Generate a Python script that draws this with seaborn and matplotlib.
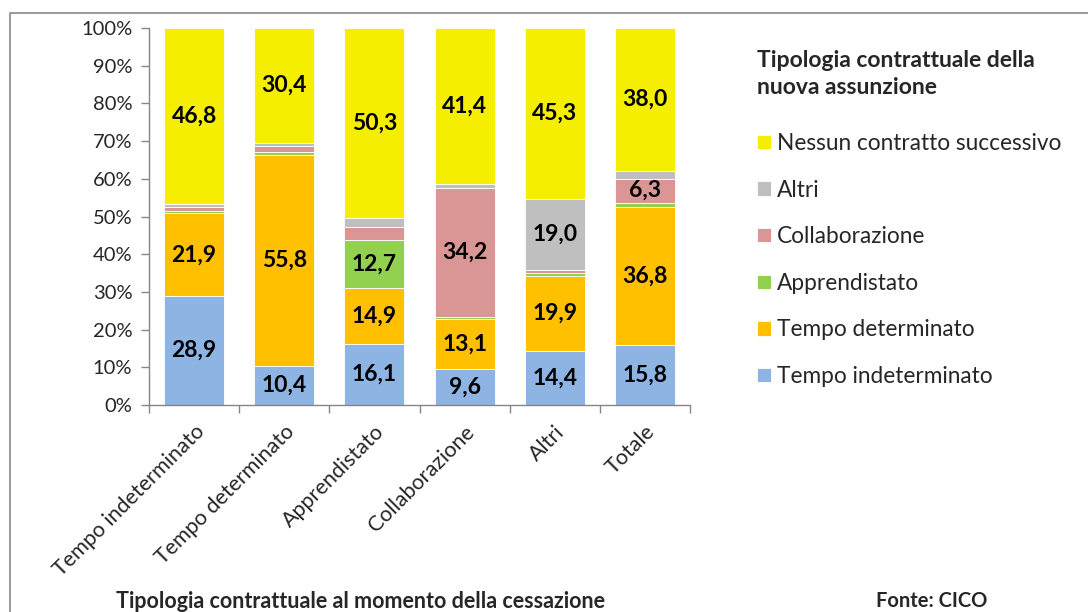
import matplotlib
matplotlib.use('Agg')
import matplotlib.pyplot as plt
from matplotlib.lines import Line2D
import seaborn as sns

# categories (contract at the moment of termination)
categories = ['Tempo indeterminato', 'Tempo determinato', 'Apprendistato',
              'Collaborazione', 'Altri', 'Totale']

# new hiring contract type, % per category (bottom -> top)
tempo_indeterminato = [28.9, 10.4, 16.1, 9.6, 14.4, 15.8]
tempo_determinato = [21.9, 55.8, 14.9, 13.1, 19.9, 36.8]
apprendistato = [0.7, 1.0, 12.7, 0.7, 0.8, 1.1]
collaborazione = [1.1, 1.4, 3.4, 34.2, 0.6, 6.3]
altri = [0.6, 1.0, 2.6, 1.0, 19.0, 2.0]
nessun_contratto = [46.8, 30.4, 50.3, 41.4, 45.3, 38.0]

series_names = ['Tempo indeterminato', 'Tempo determinato', 'Apprendistato',
                'Collaborazione', 'Altri', 'Nessun contratto successivo']
series_values = [tempo_indeterminato, tempo_determinato, apprendistato,
                 collaborazione, altri, nessun_contratto]
series_colors = ['#8EB4E3', '#FFC000', '#92D050', '#D99694', '#BFBFBF', '#F5EE00']

sns.set_style('white')
plt.rcParams['font.family'] = ['Lato', 'DejaVu Sans']

fig = plt.figure(figsize=(10.88, 6.12), dpi=100)
ax = fig.add_axes([149 / 1088, 1 - 405 / 612, 541 / 1088, 377 / 612])

bottom = [0.0] * len(categories)
for name, vals, col in zip(series_names, series_values, series_colors):
    sns.barplot(x=categories, y=vals, bottom=bottom, color=col, width=0.667,
                saturation=1, label=name, ax=ax, edgecolor='white', linewidth=0.6)
    bottom = [b + v for b, v in zip(bottom, vals)]

handles, labels = ax.get_legend_handles_labels()
if ax.legend_ is not None:
    ax.legend_.remove()

# data labels for the larger segments
for cont in ax.containers:
    labels_txt = [f'{b.get_height():.1f}'.replace('.', ',') if b.get_height() >= 5 else ''
                  for b in cont]
    ax.bar_label(cont, labels=labels_txt, label_type='center', fontsize=16.5,
                 fontweight='bold', color='black')

ax.set_ylim(0, 100)
ax.set_xlim(-0.5, len(categories) - 0.5)
ax.set_yticks(range(0, 101, 10))
ax.set_yticklabels([f'{t}%' for t in range(0, 101, 10)], fontsize=14.5)
ax.set_xticks(range(len(categories)))
ax.set_xticklabels(categories, rotation=45, ha='right', rotation_mode='anchor',
                   fontsize=15.5)
ax.tick_params(axis='x', length=0, pad=12)
ax.tick_params(axis='y', length=6, width=1, color='#868686', left=True, pad=6)

# category boundary ticks on the x axis
ax.set_xticks([i - 0.5 for i in range(len(categories) + 1)], minor=True)
ax.tick_params(axis='x', which='minor', length=6, width=1, color='#868686', bottom=True)

for side in ['top', 'right']:
    ax.spines[side].set_visible(False)
for side in ['left', 'bottom']:
    ax.spines[side].set_color('#868686')
    ax.spines[side].set_linewidth(1)
ax.set_xlabel('')
ax.set_ylabel('')

fig.legend(handles[::-1], labels[::-1], loc='upper left',
           bbox_to_anchor=(757 / 1088, 1 - 133 / 612), frameon=False,
           fontsize=16.3, borderpad=0, borderaxespad=0, labelspacing=1.13,
           handlelength=0.6, handleheight=0.6, handletextpad=0.3)

fig.text(757 / 1088, 1 - 74 / 612, 'Tipologia contrattuale della\nnuova assunzione',
         fontsize=16.5, fontweight='bold', ha='left', va='center', linespacing=1.4)
fig.text(361 / 1088, 1 - 601 / 612, 'Tipologia contrattuale al momento della cessazione',
         fontsize=15.5, fontweight='bold', ha='center', va='center')
fig.text(932 / 1088, 1 - 601 / 612, 'Fonte: CICO',
         fontsize=14.5, fontweight='bold', ha='center', va='center')

# outer frame (left and top only)
fig.add_artist(Line2D([9.5 / 1088, 9.5 / 1088, 1.0], [0.0, 1 - 13 / 612, 1 - 13 / 612],
                      transform=fig.transFigure, color='#898989', lw=1.2))

fig.savefig('out.png', dpi=100)
